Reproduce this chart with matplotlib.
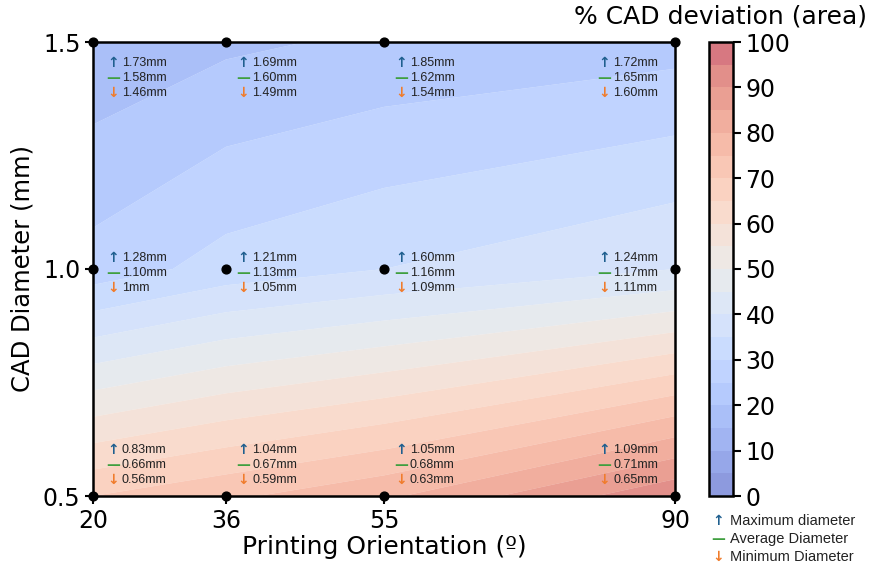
import numpy as np
import matplotlib.pyplot as plt


# Grid of measured points
orientation_deg = [20, 36, 55, 90]
cad_diameter_mm = [0.5, 1.0, 1.5]

# % CAD deviation (area), rows follow cad_diameter_mm
deviation_pct = [
    [70, 74, 79, 94],
    [27, 32, 35, 40],
    [16, 19, 21, 23],
]

# Measured diameters written next to each point, rows follow cad_diameter_mm
max_labels = [
    ["0.83mm", "1.04mm", "1.05mm", "1.09mm"],
    ["1.28mm", "1.21mm", "1.60mm", "1.24mm"],
    ["1.73mm", "1.69mm", "1.85mm", "1.72mm"],
]
avg_labels = [
    ["0.66mm", "0.67mm", "0.68mm", "0.71mm"],
    ["1.10mm", "1.13mm", "1.16mm", "1.17mm"],
    ["1.58mm", "1.60mm", "1.62mm", "1.65mm"],
]
min_labels = [
    ["0.56mm", "0.59mm", "0.63mm", "0.65mm"],
    ["1mm", "1.05mm", "1.09mm", "1.11mm"],
    ["1.46mm", "1.49mm", "1.54mm", "1.60mm"],
]

LEVELS = np.arange(0, 101, 5)
MAX_COLOR = "#1f5f8f"
AVG_COLOR = "#3f9f3f"
MIN_COLOR = "#f07c2c"
LABEL_FONT = "Liberation Sans"

# pixel offsets of the annotation block (arrow x, first line y) per column / row
COL_DX = [20, 17, 17, -71]
ROW_DY = [46, 11, -21]
LINE_STEP = 15
TEXT_GAP = 9


def draw_annotations(ax):
    for i, y in enumerate(cad_diameter_mm):
        for j, x in enumerate(orientation_deg):
            rows = [
                ("↑", MAX_COLOR, max_labels[i][j]),
                ("—", AVG_COLOR, avg_labels[i][j]),
                ("↓", MIN_COLOR, min_labels[i][j]),
            ]
            for k, (symbol, color, label) in enumerate(rows):
                dy = ROW_DY[i] - k * LINE_STEP
                ax.annotate(symbol, xy=(x, y), xytext=(COL_DX[j], dy),
                            textcoords="offset pixels", ha="center",
                            va="center", color=color, fontsize=10,
                            fontweight="bold", annotation_clip=False)
                ax.annotate(label, xy=(x, y),
                            xytext=(COL_DX[j] + TEXT_GAP, dy),
                            textcoords="offset pixels", ha="left",
                            va="center", color="#222222", fontsize=9,
                            family=LABEL_FONT, annotation_clip=False)


def draw_legend(fig):
    entries = [
        ("↑", MAX_COLOR, "Maximum diameter"),
        ("—", AVG_COLOR, "Average Diameter"),
        ("↓", MIN_COLOR, "Minimum Diameter"),
    ]
    for k, (symbol, color, label) in enumerate(entries):
        y = 1 - (521 + k * 18) / 568
        fig.text(718 / 869, y, symbol, color=color, fontsize=10,
                 fontweight="bold", ha="center", va="center")
        fig.text(730 / 869, y, label, color="#222222", fontsize=10.5,
                 family=LABEL_FONT, ha="left", va="center")


def graph():
    fig = plt.figure(figsize=(8.69, 5.68), dpi=100)
    ax = fig.add_axes([93 / 869, 72 / 568, 582 / 869, 454 / 568])
    cax = fig.add_axes([709 / 869, 72 / 568, 24 / 869, 454 / 568])

    X, Y = np.meshgrid(orientation_deg, cad_diameter_mm)
    Z = np.array(deviation_pct)
    cs = ax.contourf(X, Y, Z, levels=LEVELS, cmap="coolwarm", alpha=0.6,
                     antialiased=True)

    ax.scatter(X.ravel(), Y.ravel(), s=40, color="black", zorder=5,
               clip_on=False)

    ax.set_xlim(20, 90)
    ax.set_ylim(0.5, 1.5)
    ax.set_xticks(orientation_deg)
    ax.set_yticks(cad_diameter_mm)
    ax.set_yticklabels(["0.5", "1.0", "1.5"])
    ax.tick_params(labelsize=17, width=1.5, length=6, color="black", pad=3)
    for spine in ax.spines.values():
        spine.set_linewidth(1.8)
    ax.set_xlabel("Printing Orientation (º)", fontsize=18, labelpad=2)
    ax.set_ylabel("CAD Diameter (mm)", fontsize=17.5, labelpad=6)

    cbar = fig.colorbar(cs, cax=cax, ticks=np.arange(0, 101, 10))
    cbar.outline.set_linewidth(1.8)
    cbar.ax.tick_params(labelsize=17, width=1.5, length=6, pad=3)
    cbar.ax.set_title("% CAD deviation (area)", fontsize=18, pad=13)

    draw_annotations(ax)
    draw_legend(fig)

    fig.savefig("out.png", dpi=100)


def main():
    graph()


if __name__ == "__main__":
    main()
